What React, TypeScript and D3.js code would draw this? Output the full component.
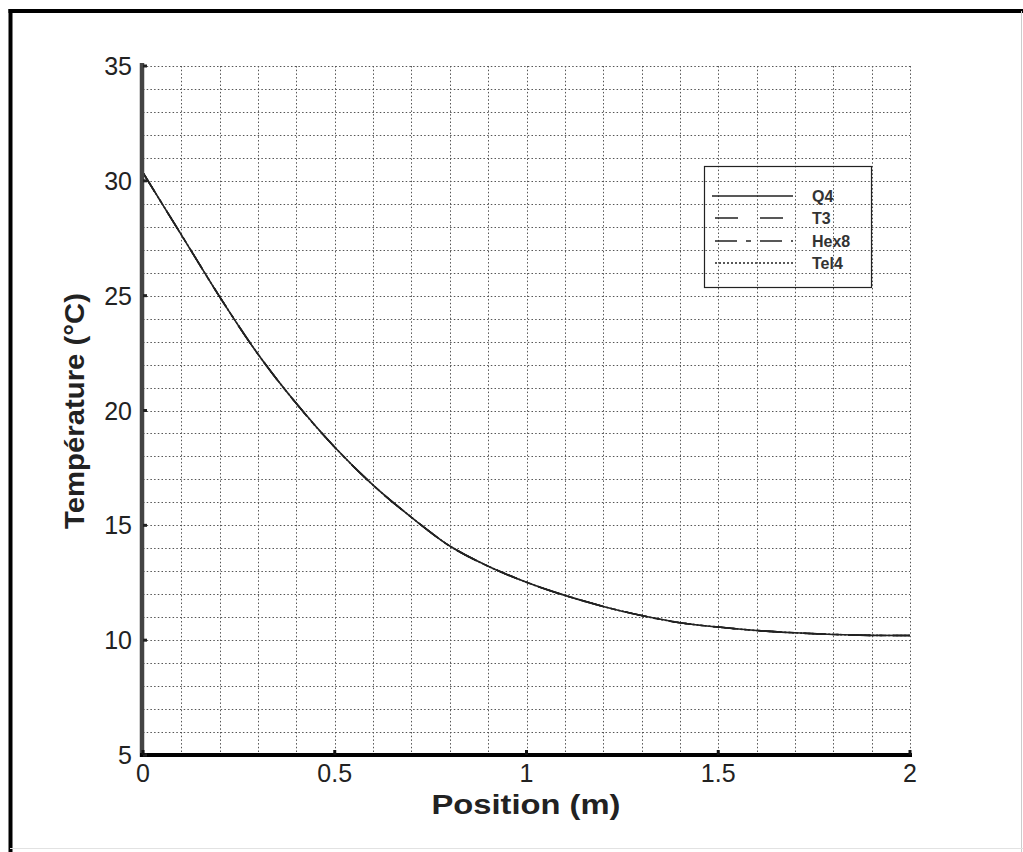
import React from "react";
import * as d3 from "d3";

// ---- data ----
const POSITIONS = [0, 0.1, 0.2, 0.3, 0.4, 0.5, 0.6, 0.7, 0.8, 0.9, 1.0, 1.1, 1.2, 1.3, 1.4, 1.5, 1.6, 1.7, 1.8, 1.9, 2.0];
const Q4 = [30.35, 27.65, 24.95, 22.45, 20.3, 18.4, 16.75, 15.35, 14.1, 13.22, 12.52, 11.95, 11.47, 11.07, 10.76, 10.57, 10.42, 10.32, 10.25, 10.21, 10.2];
const T3 = [30.35, 27.65, 24.95, 22.45, 20.3, 18.4, 16.75, 15.35, 14.1, 13.22, 12.52, 11.95, 11.47, 11.07, 10.76, 10.57, 10.42, 10.32, 10.25, 10.21, 10.2];
const HEX8 = [30.35, 27.65, 24.95, 22.45, 20.3, 18.4, 16.75, 15.35, 14.1, 13.22, 12.52, 11.95, 11.47, 11.07, 10.76, 10.57, 10.42, 10.32, 10.25, 10.21, 10.2];
const TEL4 = [30.35, 27.65, 24.95, 22.45, 20.3, 18.4, 16.75, 15.35, 14.1, 13.22, 12.52, 11.95, 11.47, 11.07, 10.76, 10.57, 10.42, 10.32, 10.25, 10.21, 10.2];
const SERIES_NAMES = ["Q4", "T3", "Hex8", "Tel4"];
const X_TICKS = [0, 0.5, 1, 1.5, 2];
const X_TICK_LABELS = ["0", "0.5", "1", "1.5", "2"];
const Y_TICKS = [5, 10, 15, 20, 25, 30, 35];
const Y_TICK_LABELS = ["5", "10", "15", "20", "25", "30", "35"];
const X_TITLE = "Position (m)";
const Y_TITLE = "Température (°C)";

const FONT = "'Liberation Sans', Arial, Helvetica, sans-serif";

export default function App() {
  const W = 1023, H = 852;
  const x = d3.scaleLinear().domain([0, 2]).range([143, 910]);
  const y = d3.scaleLinear().domain([5, 35]).range([755, 66]);

  const seriesValues = [Q4, T3, HEX8, TEL4];
  const dashes = ["none", "23,22", "22,9,5,9", "2,2"];

  const line = d3
    .line<number>()
    .x((_, i) => x(POSITIONS[i]))
    .y((v) => y(v))
    .curve(d3.curveMonotoneX);

  const xGrid = d3.range(1, 21).map((i) => i / 10);
  const yGrid = d3.range(6, 36);

  const legend = { x0: 704, y0: 166, x1: 871, y1: 287 };
  const legendRows = [196, 218, 241, 263];

  return (
    <svg
      width={W}
      height={H}
      style={{ position: "absolute", left: 0, top: 0, background: "#fff" }}
      fontFamily={FONT}
    >
      <rect x={0} y={0} width={W} height={H} fill="#fff" />
      {/* frame */}
      <line x1={10.5} y1={9} x2={10.5} y2={H} stroke="#000" strokeWidth={4} />
      <line x1={8.5} y1={11} x2={W} y2={11} stroke="#000" strokeWidth={4} />
      <line x1={1021.5} y1={11} x2={1021.5} y2={H} stroke="#ccc" strokeWidth={1} />
      <line x1={10} y1={848.5} x2={W} y2={848.5} stroke="#e2e2e2" strokeWidth={1} />

      {/* grid */}
      <g stroke="#555" strokeWidth={1} strokeDasharray="1.5,2.2">
        {xGrid.map((v) => (
          <line key={"gx" + v} x1={Math.round(x(v)) + 0.5} x2={Math.round(x(v)) + 0.5} y1={y(35)} y2={y(5)} />
        ))}
        {yGrid.map((v) => (
          <line key={"gy" + v} x1={x(0)} x2={x(2)} y1={Math.round(y(v)) + 0.5} y2={Math.round(y(v)) + 0.5} />
        ))}
      </g>

      {/* curves */}
      {seriesValues.map((vals, k) => (
        <path
          key={SERIES_NAMES[k]}
          d={line(vals) || ""}
          fill="none"
          stroke="#222"
          strokeWidth={1.6}
          strokeDasharray={dashes[k]}
        />
      ))}

      {/* axes */}
      <line x1={x(0) - 1} x2={x(0) - 1} y1={y(35) - 3} y2={y(5) + 2} stroke="#444" strokeWidth={4.5} />
      <line x1={x(0) - 3} x2={x(2) + 2} y1={y(5)} y2={y(5)} stroke="#000" strokeWidth={4} />
      {Y_TICKS.map((v) => (
        <line key={"yt" + v} x1={x(0)} x2={x(0) + 4} y1={y(v)} y2={y(v)} stroke="#222" strokeWidth={3} />
      ))}
      {X_TICKS.map((v) => (
        <line key={"xt" + v} x1={x(v)} x2={x(v)} y1={y(5)} y2={y(5) - 5} stroke="#111" strokeWidth={3} />
      ))}

      {/* tick labels */}
      {Y_TICKS.map((v, i) => (
        <text key={"yl" + v} x={132} y={y(v)} dy="0.36em" textAnchor="end" fontSize={25} fill="#222">
          {Y_TICK_LABELS[i]}
        </text>
      ))}
      {X_TICKS.map((v, i) => (
        <text key={"xl" + v} x={x(v)} y={782} textAnchor="middle" fontSize={25} fill="#222">
          {X_TICK_LABELS[i]}
        </text>
      ))}

      {/* axis titles */}
      <text x={526} y={814} textAnchor="middle" fontSize={27} fontWeight="bold" fill="#222" textLength={189} lengthAdjust="spacingAndGlyphs">
        {X_TITLE}
      </text>
      <text
        transform={`translate(84,411) rotate(-90)`}
        textAnchor="middle"
        fontSize={28}
        fontWeight="bold"
        fill="#222"
        textLength={236}
        lengthAdjust="spacingAndGlyphs"
      >
        {Y_TITLE}
      </text>

      {/* legend */}
      <rect
        x={legend.x0 + 0.5}
        y={legend.y0 + 0.5}
        width={legend.x1 - legend.x0}
        height={legend.y1 - legend.y0}
        fill="none"
        stroke="#222"
        strokeWidth={1.2}
      />
      {SERIES_NAMES.map((name, k) => (
        <g key={"lg" + name}>
          <line
            x1={k === 0 ? 712 : 715}
            x2={793}
            y1={legendRows[k]}
            y2={legendRows[k]}
            stroke="#222"
            strokeWidth={1.4}
            strokeDasharray={dashes[k]}
          />
          <text x={812} y={legendRows[k]} dy="0.36em" fontSize={16} fontWeight="bold" fill="#333">
            {name}
          </text>
        </g>
      ))}
    </svg>
  );
}
